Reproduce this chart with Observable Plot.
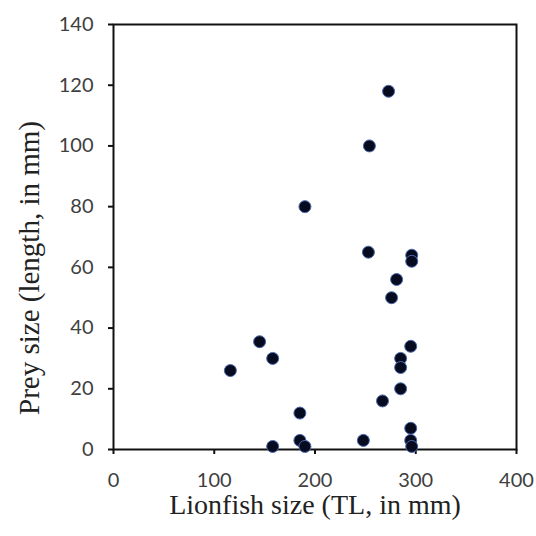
<!DOCTYPE html>
<html>
<head>
<meta charset="utf-8">
<script src="https://cdn.jsdelivr.net/npm/d3@7"></script>
<script src="https://cdn.jsdelivr.net/npm/@observablehq/plot@0.6"></script>
<style>
  html, body { margin: 0; padding: 0; background: #fff; }
</style>
</head>
<body>
<div id="chart"></div>
<script>
const lionfishSize = [273, 254, 190, 253, 296, 296, 281, 276, 145, 158, 116, 295, 285, 285, 285, 267, 185, 295, 185, 190, 158, 248, 295, 296];
const preySize     = [118, 100, 80, 65, 64, 62, 56, 50, 35.5, 30, 26, 34, 30, 27, 20, 16, 12, 7, 3, 1, 1, 3, 3, 1];
const xTicks = [0, 100, 200, 300, 400];
const yTicks = [0, 20, 40, 60, 80, 100, 120, 140];
const xTitle = "Lionfish size (TL, in mm)";
const yTitle = "Prey size (length, in mm)";

const data = lionfishSize.map((x, i) => ({x, y: preySize[i]}));

const chart = Plot.plot({
  width: 536,
  height: 536,
  marginLeft: 113,
  marginRight: 20,
  marginTop: 24,
  marginBottom: 87,
  style: {fontFamily: "Lato, sans-serif", background: "#fff"},
  x: {domain: [0, 400]},
  y: {domain: [0, 140]},
  marks: [
    Plot.frame({stroke: "#111", strokeWidth: 2}),
    Plot.axisX({ticks: xTicks, tickSize: 5, tickPadding: 18, fontSize: 20, fill: "#404040", stroke: "#111", strokeWidth: 2, label: null, tickFormat: d => String(d)}),
    Plot.axisY({ticks: yTicks, tickSize: 5, tickPadding: 15, fontSize: 20, fill: "#404040", stroke: "#111", strokeWidth: 2, label: null, tickFormat: d => String(d)}),
    Plot.text([xTitle], {text: d => d, frameAnchor: "bottom", textAnchor: "middle", lineAnchor: "middle", dy: 56, fontSize: 28, fontFamily: "Liberation Serif, serif", fill: "#222"}),
    Plot.text([yTitle], {text: d => d, frameAnchor: "left", textAnchor: "middle", lineAnchor: "middle", dx: -84, dy: 31, rotate: -90, fontSize: 29, fontFamily: "Liberation Serif, serif", fill: "#222"}),
    Plot.dot(data, {x: "x", y: "y", r: 6, fill: "#070b1f", stroke: "#4d69ad", strokeWidth: 1})
  ]
});
document.getElementById("chart").appendChild(chart);
</script>
</body>
</html>
